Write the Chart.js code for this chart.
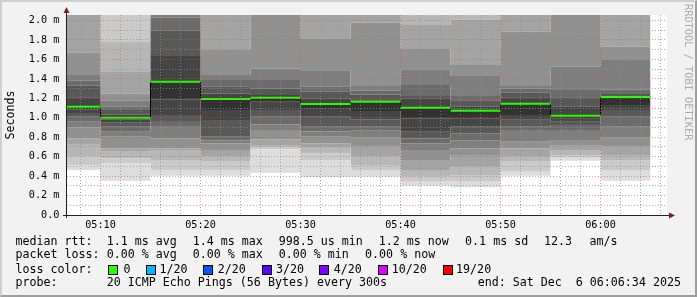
<!DOCTYPE html>
<html>
<head>
<meta charset="utf-8">
<script src="https://cdn.jsdelivr.net/npm/chart.js@4.4.1/dist/chart.umd.min.js"></script>
<style>
html,body{margin:0;padding:0;background:#f2f2f2;}
#wrap{position:relative;width:697px;height:297px;overflow:hidden;background:#f2f2f2;}
#canvasBg{position:absolute;left:67px;top:15px;width:600px;height:200px;background:#ffffff;}
#c{position:absolute;left:0;top:0;}
#frame{position:absolute;left:0;top:0;width:697px;height:297px;box-sizing:border-box;border-top:2px solid #cfcfcf;border-left:2px solid #cfcfcf;border-bottom:2px solid #9e9e9e;border-right:2px solid #9e9e9e;pointer-events:none;}
.t{position:absolute;font-family:"DejaVu Sans Mono",monospace;font-size:11.65px;line-height:14px;color:#000;white-space:pre;}
.box{position:absolute;width:8px;height:8px;border:1px solid #000;top:265px;}
#wm{position:absolute;left:683px;top:4px;font-family:"DejaVu Sans Mono",monospace;font-size:10.3px;line-height:12px;color:#aaaaaa;writing-mode:vertical-rl;white-space:pre;}
</style>
</head>
<body>
<div id="wrap">
<div id="canvasBg"></div>
<canvas id="c" width="697" height="297"></canvas>
<div id="wm">RRDTOOL / TOBI OETIKER</div>

<div class="t" style="left:15.4px;top:234px">median rtt:</div>
<div class="t" style="left:106.7px;top:234px">1.1 ms avg</div>
<div class="t" style="left:192.7px;top:234px">1.4 ms max</div>
<div class="t" style="left:278.7px;top:234px">998.5 us min</div>
<div class="t" style="left:378.7px;top:234px">1.2 ms now</div>
<div class="t" style="left:465.1px;top:234px">0.1 ms sd</div>
<div class="t" style="left:544.1px;top:234px">12.3</div>
<div class="t" style="left:589.4px;top:234px">am/s</div>

<div class="t" style="left:15.4px;top:247.4px">packet loss:</div>
<div class="t" style="left:106.7px;top:247.4px">0.00 % avg</div>
<div class="t" style="left:192.7px;top:247.4px">0.00 % max</div>
<div class="t" style="left:278.7px;top:247.4px">0.00 % min</div>
<div class="t" style="left:365.1px;top:247.4px">0.00 % now</div>

<div class="t" style="left:15.4px;top:261.7px">loss color:</div>
<div class="box" style="left:108px;background:#26ff00"></div>
<div class="t" style="left:123.4px;top:261.7px">0</div>
<div class="box" style="left:145.5px;background:#00b8ff"></div>
<div class="t" style="left:159.4px;top:261.7px">1/20</div>
<div class="box" style="left:203px;background:#0059ff"></div>
<div class="t" style="left:217.7px;top:261.7px">2/20</div>
<div class="box" style="left:261.5px;background:#5e00ff"></div>
<div class="t" style="left:276.1px;top:261.7px">3/20</div>
<div class="box" style="left:319px;background:#7e00ff"></div>
<div class="t" style="left:333.7px;top:261.7px">4/20</div>
<div class="box" style="left:377.5px;background:#dd00ff"></div>
<div class="t" style="left:391.7px;top:261.7px">10/20</div>
<div class="box" style="left:442.5px;background:#ff0000"></div>
<div class="t" style="left:456.1px;top:261.7px">19/20</div>

<div class="t" style="left:15.4px;top:275px">probe:</div>
<div class="t" style="left:106.7px;top:275px">20 ICMP Echo Pings (56 Bytes) every 300s</div>
<div class="t" style="left:477.7px;top:275px">end: Sat Dec  6 06:06:34 2025</div>

<div id="frame"></div>
</div>
<script>
// ---- data ----
const stepEnds = ["05:10","05:15","05:20","05:25","05:30","05:35","05:40","05:45","05:50","05:55","06:00","06:05"];
const stepMinutes = 5;
const median = [1.114, 1.0, 1.371, 1.193, 1.206, 1.141, 1.165, 1.103, 1.072, 1.145, 1.021, 1.213];
// 20 sorted ping RTTs (ms) per 5-minute step
const ping0510 = [0.463,0.511,0.60,0.73,0.789,0.90,0.96,1.01,1.05,1.087,1.114,1.21,1.33,1.38,1.44,1.67,2.2,2.3,2.4,2.6];
const ping0515 = [0.353,0.53,0.58,0.65,0.686,0.805,0.857,0.908,0.95,0.985,1.0,1.03,1.08,1.114,1.175,1.25,1.47,1.78,2.2,2.5];
const ping0520 = [0.404,0.463,0.558,0.668,0.686,0.789,0.915,0.967,1.028,1.19,1.371,1.635,1.90,2.03,2.2,2.3,2.4,2.5,2.6,2.7];
const ping0525 = [0.404,0.463,0.548,0.60,0.668,0.737,0.77,0.805,0.977,1.08,1.193,1.25,1.32,1.388,1.44,1.697,2.2,2.3,2.4,2.5];
const ping0530 = [0.435,0.675,0.70,0.72,0.778,0.874,0.93,1.01,1.08,1.165,1.206,1.234,1.30,1.388,1.508,2.2,2.3,2.4,2.5,2.6];
const ping0535 = [0.39,0.566,0.634,0.70,0.737,0.805,0.86,0.908,1.01,1.10,1.141,1.20,1.268,1.32,1.49,1.817,2.2,2.3,2.4,2.5];
const ping0540 = [0.394,0.463,0.514,0.60,0.71,0.80,0.867,0.908,0.984,1.07,1.165,1.18,1.24,1.278,1.326,1.977,2.2,2.3,2.4,2.5];
const ping0545 = [0.30,0.343,0.394,0.463,0.566,0.668,0.737,0.789,0.857,0.994,1.103,1.20,1.224,1.337,1.498,1.714,1.954,2.2,2.3,2.4];
const ping0550 = [0.285,0.343,0.411,0.497,0.617,0.686,0.77,0.84,0.908,0.99,1.072,1.114,1.18,1.224,1.43,1.542,2.01,2.2,2.3,2.4];
const ping0555 = [0.404,0.446,0.548,0.60,0.686,0.754,0.874,0.908,0.98,1.028,1.145,1.21,1.258,1.30,1.326,1.885,2.2,2.3,2.4,2.5];
const ping0600 = [0.558,0.59,0.617,0.668,0.72,0.771,0.874,0.925,0.96,0.99,1.021,1.114,1.21,1.285,1.525,2.2,2.3,2.4,2.5,2.6];
const ping0605 = [0.353,0.463,0.566,0.617,0.702,0.80,0.908,1.01,1.08,1.131,1.213,1.224,1.244,1.292,1.594,1.73,2.2,2.3,2.4,2.5];
const pingsPerStep = [ping0510,ping0515,ping0520,ping0525,ping0530,ping0535,ping0540,ping0545,ping0550,ping0555,ping0600,ping0605];
const xTickTimes = ["05:08","05:10","05:12","05:14","05:16","05:18","05:20","05:22","05:24","05:26","05:28","05:30","05:32","05:34","05:36","05:38","05:40","05:42","05:44","05:46","05:48","05:50","05:52","05:54","05:56","05:58","06:00","06:02","06:04","06:06"];
const yTickValues = [0,0.1,0.2,0.3,0.4,0.5,0.6,0.7,0.8,0.9,1.0,1.1,1.2,1.3,1.4,1.5,1.6,1.7,1.8,1.9,2.0];
const graphStart = "05:06:39";
const graphEnd = "06:06:39";
const yMax = 2.057;

// ---- helpers ----
function toMin(s){const p=s.split(':').map(Number);return (p[0]-5)*60+p[1]+(p[2]||0)/60;}
function series(vals){
  const pts=[{x:toMin(stepEnds[0])-stepMinutes,y:vals[0]}];
  stepEnds.forEach((t,i)=>pts.push({x:toMin(t),y:vals[i]}));
  return pts;
}
function flatSegments(vals){
  const pts=[];
  stepEnds.forEach((t,i)=>{
    const e=toMin(t);
    pts.push({x:e-stepMinutes,y:vals[i]},{x:e,y:vals[i]},{x:e,y:null});
  });
  return pts;
}
const nP = 20;
function bandGray(k){ // band between ping k and k+1 (1-based)
  const lvl = k<=10 ? 19*(10-k)+50 : 19*(k-10)+50;
  return 'rgb('+lvl+','+lvl+','+lvl+')';
}
const datasets = [];
datasets.push({label:'median',data:flatSegments(median),borderColor:'#26ff00',borderWidth:2,pointRadius:0,fill:false,spanGaps:false});
datasets.push({label:'medianEdge',data:series(median),stepped:'after',borderColor:'#000000',borderWidth:1,pointRadius:0,fill:false});
for(let r=0;r<nP;r++){
  const vals = pingsPerStep.map(p=>p[r]);
  datasets.push({
    label:'ping'+(r+1),
    data:series(vals),
    stepped:'after',
    borderWidth:0,
    pointRadius:0,
    fill: r===0 ? false : '-1',
    backgroundColor: r===0 ? 'rgba(0,0,0,0)' : bandGray(r)
  });
}

const MAJOR='rgba(222,79,79,0.6)', MINOR='rgba(143,143,143,0.75)';
const monoFont = "'DejaVu Sans Mono', monospace";

const axesArrows = {
  id:'axesArrows',
  afterDraw(chart){
    const a=chart.chartArea, ctx=chart.ctx;
    ctx.save();
    ctx.setLineDash([]);
    ctx.strokeStyle='#1f1f1f'; ctx.lineWidth=1;
    ctx.beginPath();
    ctx.moveTo(a.left-4, a.bottom+0.5); ctx.lineTo(a.right+4, a.bottom+0.5);
    ctx.moveTo(a.left-0.5, a.bottom+3); ctx.lineTo(a.left-0.5, a.top-3);
    ctx.stroke();
    ctx.fillStyle='#801f1f';
    ctx.beginPath();
    ctx.moveTo(a.right+8, a.bottom+0.5); ctx.lineTo(a.right+2, a.bottom-2.5); ctx.lineTo(a.right+2, a.bottom+3.5); ctx.closePath(); ctx.fill();
    ctx.beginPath();
    ctx.moveTo(a.left-0.5, a.top-8); ctx.lineTo(a.left-3.5, a.top-2); ctx.lineTo(a.left+2.5, a.top-2); ctx.closePath(); ctx.fill();
    ctx.restore();
  }
};

new Chart(document.getElementById('c'), {
  type:'line',
  data:{datasets},
  options:{
    responsive:false, animation:false, devicePixelRatio:1,
    layout:{padding:{left:0,right:30,top:15,bottom:62}},
    plugins:{legend:{display:false},tooltip:{enabled:false}},
    scales:{
      x:{
        type:'linear', min:toMin(graphStart), max:toMin(graphEnd),
        afterBuildTicks:s=>{s.ticks=xTickTimes.map(t=>({value:toMin(t)}));},
        afterFit:s=>{s.height=20;},
        ticks:{autoSkip:false,maxRotation:0,minRotation:0,padding:4,color:'#000',font:{family:monoFont,size:10.2},
          callback:(v,i)=>{const t=xTickTimes[i];return t && t.endsWith('0')?t:'';}},
        grid:{z:1,drawTicks:false,lineWidth:1,color:c=>{const v=c.tick?c.tick.value:0;return Math.abs(v%10)<1e-6?MAJOR:MINOR;}},
        border:{display:false,dash:[1,2]}
      },
      y:{
        type:'linear', min:0, max:yMax,
        afterBuildTicks:s=>{s.ticks=yTickValues.map(v=>({value:v}));},
        afterFit:s=>{s.width=67;},
        ticks:{autoSkip:false,padding:7.5,color:'#000',font:{family:monoFont,size:10.2},
          callback:(v)=>{const k=Math.round(v*10);if(k%2!==0)return '';return k===0?'0.0':(v.toFixed(1)+' m');}},
        grid:{z:1,drawTicks:false,lineWidth:1,color:c=>{const v=c.tick?c.tick.value:0;return Math.round(v*10)%2===0?MAJOR:MINOR;}},
        border:{display:false,dash:[1,2]},
        title:{display:true,text:'Seconds',color:'#000',font:{family:monoFont,size:11.65},padding:{top:4,bottom:0}}
      }
    }
  },
  plugins:[axesArrows]
});
</script>
</body>
</html>
